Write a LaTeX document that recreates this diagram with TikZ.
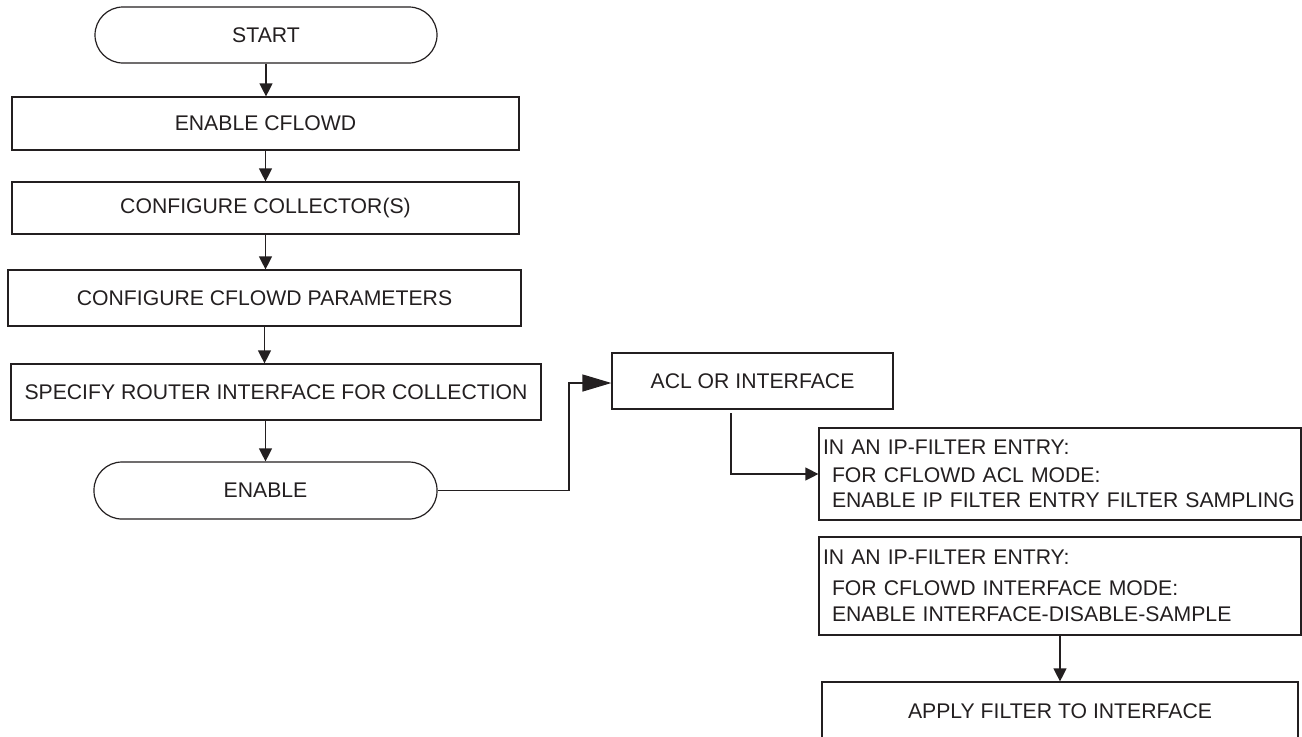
\documentclass[tikz,border=0pt]{standalone}
\usepackage{fontspec}
\setmainfont{Liberation Sans}
\usepackage{tikz}
\usetikzlibrary{arrows.meta,positioning}
\definecolor{inkgray}{RGB}{35,31,32}

\begin{document}
\begin{tikzpicture}[x=0.5pt, y=-0.5pt, ->, >={Triangle[length=6.5pt,width=6.5pt]}, semithick, draw=inkgray]
\tikzstyle{every node}=[font=\fontsize{10.6}{12.5}\selectfont, text=inkgray]
\tikzstyle{step box}=[draw, rectangle, inner sep=2pt]
\tikzstyle{term}=[draw, rectangle, rounded corners=14pt, minimum width=171pt, minimum height=28pt]
\tikzstyle{note box}=[draw, rectangle, align=left, inner sep=2pt, text width=237pt, minimum width=241pt]
\tikzstyle{big tip}=[-{Triangle[length=14.5pt,width=8.5pt]}]
\useasboundingbox (0,0) rectangle (1302,736);

\node[term]     (start)     at (266,35)       {START};
\node[step box, minimum width=253.5pt, minimum height=26.5pt] (enablecf) at (265.5,123.5) {ENABLE CFLOWD};
\node[step box, minimum width=253.5pt, minimum height=26pt]   (collect)  at (265.5,208)   {CONFIGURE COLLECTOR(S)};
\node[step box, minimum width=256.5pt, minimum height=28pt]   (params)   at (264.5,298)   {CONFIGURE CFLOWD PARAMETERS};
\node[step box, minimum width=265pt, minimum height=28pt]     (specify)  at (276,392)     {SPECIFY ROUTER INTERFACE FOR COLLECTION};
\node[term, minimum width=171.5pt, minimum height=28.5pt]     (enable)   at (265.5,490.5) {ENABLE};
\node[step box, minimum width=140.5pt, minimum height=28pt]   (acl)      at (752.5,381)   {ACL OR INTERFACE};
\node[note box, minimum height=46pt] (aclmode) at (1060,474)
    {IN AN IP-FILTER ENTRY:\\[1.5pt]
     \hspace*{4.5pt}FOR CFLOWD ACL MODE:\\
     \hspace*{4.5pt}ENABLE IP FILTER ENTRY FILTER SAMPLING};
\node[note box, minimum height=49pt] (ifmode) at (1060,586)
    {IN AN IP-FILTER ENTRY:\\[3.2pt]
     \hspace*{4.5pt}FOR CFLOWD INTERFACE MODE:\\[0.5pt]
     \hspace*{4.5pt}ENABLE INTERFACE-DISABLE-SAMPLE};
\node[step box, minimum width=238pt, minimum height=29pt]     (apply)    at (1060,711)    {APPLY FILTER TO INTERFACE};

\coordinate (elbowA) at (569,383);
\coordinate (dropA)  at (731,413);

\draw (start.south) -- (start.south |- enablecf.north);
\draw (enablecf.south) -- (enablecf.south |- collect.north);
\draw (collect.south) -- (collect.south |- params.north);
\draw (params.south) -- (params.south |- specify.north);
\draw (enable.north |- specify.south) -- (enable.north);
\draw[big tip] (enable.east) -| (elbowA) -- (elbowA -| acl.west);
\draw (dropA) |- (aclmode.west);
\draw (ifmode.south) -- (apply.north);
\end{tikzpicture}
\end{document}
